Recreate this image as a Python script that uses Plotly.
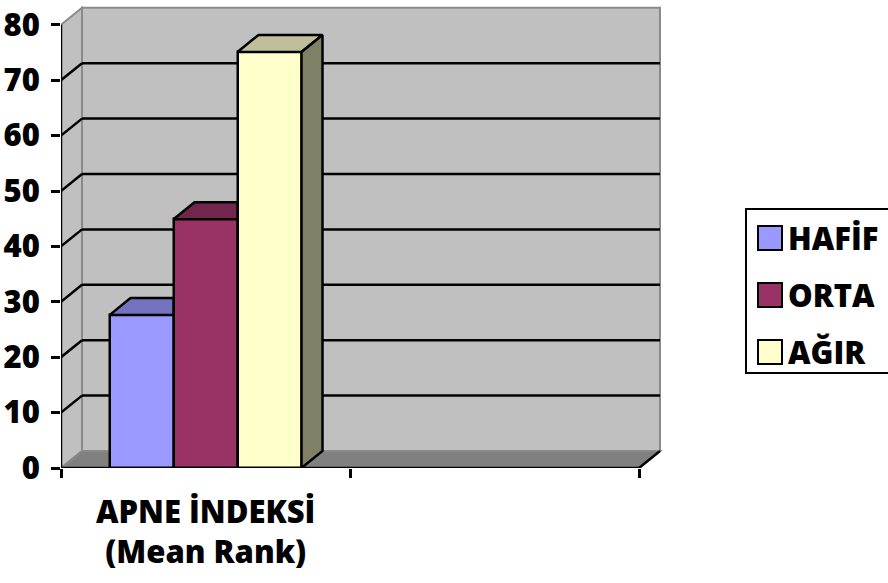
import plotly.graph_objects as go

# ---- data -------------------------------------------------------------
categories = ["APNE İNDEKSİ<br>(Mean Rank)"]
series_names = ["HAFİF", "ORTA", "AĞIR"]
series_values = [27.6, 44.9, 75.1]
y_ticks = [0, 10, 20, 30, 40, 50, 60, 70, 80]

# ---- styling ----------------------------------------------------------
front_colors = ["#9999FF", "#993366", "#FFFFCC"]
top_colors = ["#7373BF", "#73264D", "#BFBF99"]
side_colors = ["#4D4D80", "#4D1A33", "#808066"]
wall_color = "#C0C0C0"
floor_color = "#808080"
edge_gray = "#8A8A8A"
FONT = "Open Sans"
FS = 31
FW = 800

W, H = 888, 583
M_L, M_R, M_T, M_B = 61, 225, 4, 115
PLOT_W = W - M_L - M_R
PLOT_H = H - M_T - M_B
PX_PER_X = 289.0          # pixels per category slot
PX_PER_Y = 5.54           # pixels per value unit
N_SLOTS = 2               # category slots along the floor
X_MAX = PLOT_W / PX_PER_X
Y_MAX = PLOT_H / PX_PER_Y
DX = 21 / PX_PER_X        # depth offset of the 3-D box
DY = 17 / PX_PER_Y
Y_TOP = y_ticks[-1]

BAR_W = 64 / PX_PER_X


def paper_x(px):
    return (px - M_L) / PLOT_W


def paper_y(py):
    return (H - M_B - py) / PLOT_H


fig = go.Figure()

# ---- walls, floor and gridlines ---------------------------------------
shapes = []
shapes.append(dict(type="rect", xref="x", yref="y", layer="below",
                   x0=DX, x1=N_SLOTS + DX, y0=DY, y1=Y_TOP + DY,
                   fillcolor=wall_color, line=dict(color=edge_gray, width=2)))
shapes.append(dict(type="path", xref="x", yref="y", layer="below",
                   path=f"M0,0 L{DX},{DY} L{DX},{Y_TOP + DY} L0,{Y_TOP} Z",
                   fillcolor=wall_color, line=dict(color=edge_gray, width=2)))
shapes.append(dict(type="path", xref="x", yref="y", layer="below",
                   path=f"M0,0 L{N_SLOTS},0 L{N_SLOTS + DX},{DY} L{DX},{DY} Z",
                   fillcolor=floor_color, line=dict(color=edge_gray, width=2)))
for v in y_ticks[1:-1]:
    shapes.append(dict(type="line", xref="x", yref="y", layer="below",
                       x0=DX, x1=N_SLOTS + DX, y0=v + DY, y1=v + DY,
                       line=dict(color="black", width=2.5)))
    shapes.append(dict(type="line", xref="x", yref="y", layer="below",
                       x0=0, x1=DX, y0=v, y1=v + DY,
                       line=dict(color="black", width=2.5)))
# front edges of the floor and the value axis
shapes.append(dict(type="line", xref="x", yref="y", layer="below",
                   x0=0, x1=N_SLOTS, y0=0, y1=0, line=dict(color="black", width=2.5)))
shapes.append(dict(type="line", xref="x", yref="y", layer="below",
                   x0=N_SLOTS, x1=N_SLOTS + DX, y0=0, y1=DY,
                   line=dict(color="black", width=2.5)))
shapes.append(dict(type="line", xref="x", yref="y", layer="below",
                   x0=0, x1=0, y0=0, y1=Y_TOP, line=dict(color="black", width=2.5)))

# ---- bars -------------------------------------------------------------
n = len(series_names)
for ci, cat in enumerate(categories):
    left = ci + 0.5 - n * BAR_W / 2
    for i, (name, val) in enumerate(zip(series_names, series_values)):
        x0 = left + i * BAR_W
        x1 = x0 + BAR_W
        fig.add_trace(go.Bar(
            x=[(x0 + x1) / 2], y=[val], width=[BAR_W], name=name,
            marker=dict(color=front_colors[i], line=dict(color="black", width=2.5)),
            showlegend=False))

for ci, cat in enumerate(categories):
    left = ci + 0.5 - n * BAR_W / 2
    for i, (name, val) in enumerate(zip(series_names, series_values)):
        x0 = left + i * BAR_W
        x1 = x0 + BAR_W
        nxt = series_values[i + 1] if i + 1 < n else None
        hidden_back = nxt is not None and nxt >= val + DY
        # top face
        if hidden_back:
            tx = [x0, x1, x1, x0 + DX, x0]
        else:
            tx = [x0, x1, x1 + DX, x0 + DX, x0]
        ty = [val, val, val + DY, val + DY, val]
        fig.add_trace(go.Scatter(x=tx, y=ty, mode="lines", fill="toself",
                                 fillcolor=top_colors[i],
                                 line=dict(color="black", width=2.5),
                                 hoverinfo="skip", showlegend=False))
        # right side face
        if not hidden_back:
            sx = [x1, x1 + DX, x1 + DX, x1, x1]
            sy = [0, DY, val + DY, val, 0]
            fig.add_trace(go.Scatter(x=sx, y=sy, mode="lines", fill="toself",
                                     fillcolor=side_colors[i],
                                     line=dict(color="black", width=2.5),
                                     hoverinfo="skip", showlegend=False))

# ---- legend -----------------------------------------------------------
annotations = []
LEG_L, LEG_T, LEG_B = 746, 209, 373
shapes.append(dict(type="rect", xref="paper", yref="paper",
                   x0=paper_x(LEG_L), x1=paper_x(W + 10),
                   y0=paper_y(LEG_B), y1=paper_y(LEG_T),
                   fillcolor="white", line=dict(color="black", width=2), layer="above"))
row_y = [238, 295, 352]
SQ = 24
for i, name in enumerate(series_names):
    cy = row_y[i]
    shapes.append(dict(type="rect", xref="paper", yref="paper", layer="above",
                       x0=paper_x(758), x1=paper_x(758 + SQ),
                       y0=paper_y(cy + SQ / 2), y1=paper_y(cy - SQ / 2),
                       fillcolor=front_colors[i], line=dict(color="black", width=2)))
    annotations.append(dict(xref="paper", yref="paper", x=paper_x(786), y=paper_y(cy),
                            xanchor="left", yanchor="middle", showarrow=False,
                            text=name,
                            font=dict(family=FONT, size=FS, color="black", weight=FW)))

# category label
for ci, cat in enumerate(categories):
    annotations.append(dict(xref="x", yref="paper", x=ci + 0.5, y=0,
                            xanchor="center", yanchor="top", yshift=-20,
                            showarrow=False, text=cat,
                            font=dict(family=FONT, size=FS, color="black", weight=FW)))

fig.update_layout(
    width=W, height=H, autosize=False,
    margin=dict(l=M_L, r=M_R, t=M_T, b=M_B, pad=0),
    paper_bgcolor="white", plot_bgcolor="rgba(0,0,0,0)",
    barmode="overlay", bargap=0,
    shapes=shapes, annotations=annotations,
    showlegend=False,
    xaxis=dict(range=[0, X_MAX], showgrid=False, zeroline=False, showline=False,
               tickvals=list(range(N_SLOTS + 1)), ticktext=[""] * (N_SLOTS + 1),
               ticks="outside", ticklen=9, tickwidth=2.5, tickcolor="black",
               fixedrange=True),
    yaxis=dict(range=[0, Y_MAX], showgrid=False, zeroline=False, showline=False,
               tickvals=y_ticks, ticktext=[str(v) for v in y_ticks],
               ticks="outside", ticklen=9, tickwidth=2.5, tickcolor="black",
               ticklabelstandoff=5,
               tickfont=dict(family=FONT, size=FS, color="black", weight=FW),
               fixedrange=True),
)

fig.write_html("out.html")
